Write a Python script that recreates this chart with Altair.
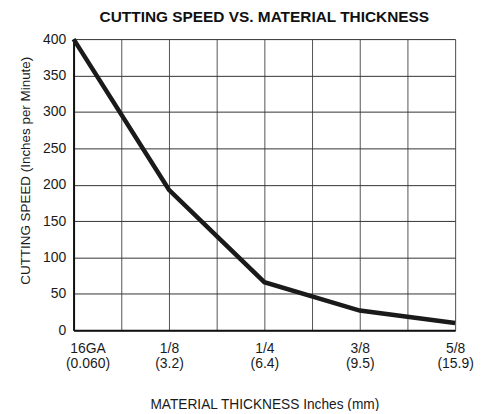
import altair as alt
import pandas as pd

# Data
pos = [0, 2, 4, 6, 8]
thickness_in = ["16GA", "1/8", "1/4", "3/8", "5/8"]
thickness_mm = ["(0.060)", "(3.2)", "(6.4)", "(9.5)", "(15.9)"]
speed = [400, 193, 66, 27, 10]

df = pd.DataFrame({"pos": pos, "speed": speed})

label_map = "{" + ",".join(
    f"'{p}': ['{a}', '{b}']" for p, a, b in zip(pos, thickness_in, thickness_mm)
) + "}"
label_expr = f"({label_map})[toString(datum.value)] || ''"

FONT = "Liberation Sans, Arial, Helvetica, sans-serif"

chart = alt.Chart(df).mark_line(
    color="#1a1a1a", strokeWidth=4.5, strokeJoin="miter"
).encode(
    x=alt.X(
        "pos:Q",
        scale=alt.Scale(domain=[0, 8], nice=False, zero=False),
        axis=alt.Axis(
            values=list(range(0, 9)),
            labelExpr=label_expr,
            title="MATERIAL THICKNESS Inches (mm)",
            titleFont=FONT,
            titleFontSize=13.8,
            titleFontWeight="normal",
            titleColor="#1a1a1a",
            titlePadding=27,
            labelFont=FONT,
            labelFontSize=14,
            labelColor="#1a1a1a",
            labelLineHeight=16,
            labelBaseline="top",
            labelPadding=11,
            labelFlush=False,
            labelOffset={"condition": {"test": "datum.value == 0", "value": 14}, "value": 0},
            labelOverlap=False,
            ticks=False,
            domainColor="#111",
            domainWidth=2,
            gridColor="#555555",
            gridWidth=1,
            gridOpacity=1,
        ),
    ),
    y=alt.Y(
        "speed:Q",
        scale=alt.Scale(domain=[0, 400], nice=False),
        axis=alt.Axis(
            values=list(range(0, 401, 50)),
            title="CUTTING SPEED (Inches per Minute)",
            titleFont=FONT,
            titleFontSize=13.5,
            titleFontWeight="normal",
            titleColor="#1a1a1a",
            titlePadding=10,
            titleY=132,
            labelFont=FONT,
            labelFontSize=14,
            labelColor="#1a1a1a",
            labelPadding=8,
            ticks=False,
            domainColor="#111",
            domainWidth=2,
            gridColor="#333333",
            gridWidth=1,
            gridOpacity=1,
        ),
    ),
).properties(
    width=384,
    height=293,
    title=alt.TitleParams(
        "CUTTING SPEED VS. MATERIAL THICKNESS",
        font=FONT,
        fontSize=15.5,
        fontWeight="bold",
        color="#111",
        anchor="middle",
        frame="group",
        baseline="alphabetic",
        offset=-7,
    ),
    autosize=alt.AutoSizeParams(type="none"),
    padding={"left": 66, "top": 30, "right": 20, "bottom": 80},
).configure_view(
    stroke="#111", strokeWidth=2
).configure(background="white")

chart.save("out.html", embed_options={"renderer": "svg", "actions": False})
